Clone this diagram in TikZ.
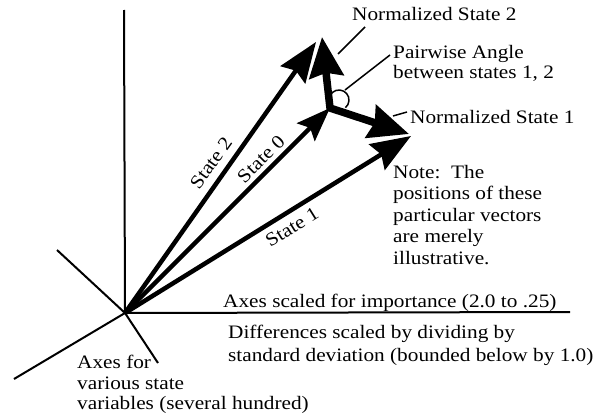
\documentclass[tikz,border=0pt]{standalone}
\usepackage{fontspec}
\setmainfont{Liberation Serif}[FakeStretch=1.12]
\usetikzlibrary{arrows.meta}
\begin{document}
\begin{tikzpicture}[x=1pt,y=-1pt,
  axis/.style={line width=2pt},
  vec/.style={line width=4.5pt,-{Stealth[length=40pt,width=30pt,inset=5pt]}},
  vecsmall/.style={line width=4.5pt,-{Stealth[length=34pt,width=25pt,inset=6pt]}},
  nvec/.style={line width=7.5pt,line join=miter,{Stealth[length=40pt,width=34pt,inset=4pt]}-{Stealth[length=40pt,width=34pt,inset=4pt]}},
  lbl/.style={font=\fontsize{19}{21.5}\selectfont,inner sep=0pt},
  lead/.style={line width=1.5pt}]
\useasboundingbox (0,0) rectangle (614,415);
% coordinates
\coordinate (O) at (125,313);
\coordinate (up) at (124,10);
\coordinate (right) at (570,312);
\coordinate (ul) at (57,250);
\coordinate (lr) at (158,363);
\coordinate (ll) at (14,379);
\coordinate (V) at (330,108);
\coordinate (s1tip) at (411,136);
\coordinate (s2tip) at (316,42);
\coordinate (n1tip) at (409,134);
\coordinate (n2tip) at (322,37);
\coordinate (arcc) at (339,100);
% axes
\draw[axis] (O) -- (up);
\draw[axis] (O) -- (right);
\draw[axis] (O) -- (ul);
\draw[axis] (O) -- (lr);
\draw[axis] (O) -- (ll);
% state vectors
\draw[vec] (O) -- (s1tip);
\draw[vec] (O) -- (s2tip);
\draw[vecsmall] (O) -- (V);
% normalized vectors
\draw[nvec] (n2tip) -- (V) -- (n1tip);
% pairwise angle arc
\draw[lead] (arcc) ++(-175:10) arc[start angle=-175,end angle=50,radius=10];
% labels
\node[lbl,anchor=base west] (ns2) at (352,20) {Normalized State 2};
\node[lbl,anchor=north west,align=left,font=\fontsize{19}{20}\selectfont] (pw) at (393,45) {Pairwise Angle\\between states 1, 2};
\node[lbl,anchor=base west] (ns1) at (410,123) {Normalized State 1};
\node[lbl,anchor=north west,align=left] (note) at (393,165) {Note:\ \ The\\positions of these\\particular vectors\\are merely\\illustrative.};
\node[lbl,anchor=base west] (axsc) at (223,307) {Axes scaled for importance (2.0 to .25)};
\node[lbl,anchor=north west,align=left,font=\fontsize{19}{23}\selectfont] (diff) at (228,325) {Differences scaled by dividing by\\standard deviation (bounded below by 1.0)};
\node[lbl,anchor=north west,align=left,font=\fontsize{19}{20.5}\selectfont] (axf) at (77,355) {Axes for\\various state\\variables (several hundred)};
\node[lbl,rotate=54.5] (s2l) at (211,163) {State 2};
\node[lbl,rotate=45] (s0l) at (261,159) {State 0};
\node[lbl,rotate=32] (s1l) at (292,227) {State 1};
% leaders
\coordinate (l2a) at (338,54);
\coordinate (l2b) at (365,27);
\coordinate (lpa) at (345,90);
\coordinate (lpb) at (390,55);
\coordinate (l1a) at (393,116);
\coordinate (l1b) at (407,112);
\draw[lead] (l2a) -- (l2b);
\draw[lead] (lpa) -- (lpb);
\draw[lead] (l1a) -- (l1b);
\end{tikzpicture}
\end{document}
